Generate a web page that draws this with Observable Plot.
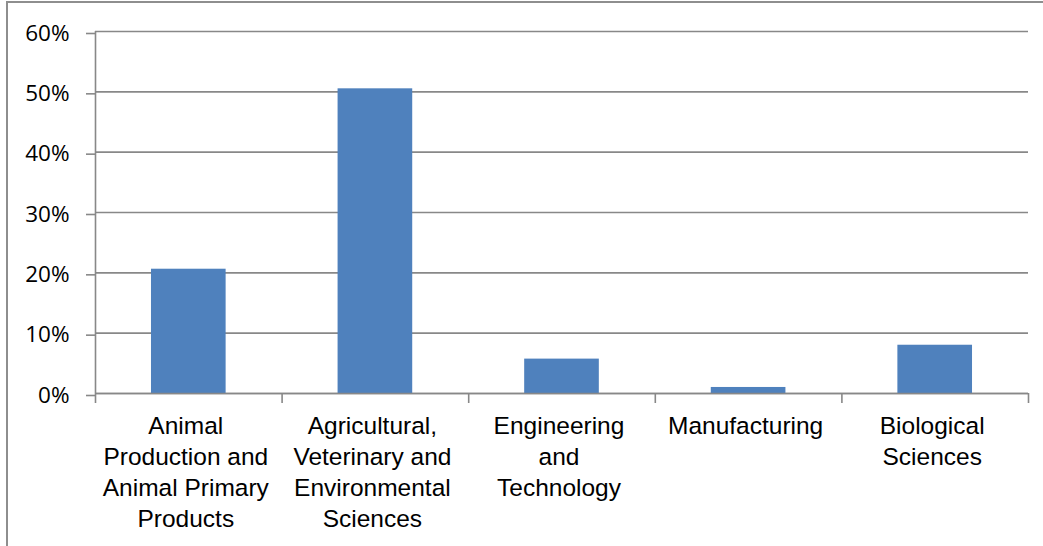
<!DOCTYPE html>
<html>
<head>
<meta charset="utf-8">
<script src="https://cdn.jsdelivr.net/npm/d3@7"></script>
<script src="https://cdn.jsdelivr.net/npm/@observablehq/plot@0.6"></script>
<style>
  html, body { margin: 0; padding: 0; background: #fff; overflow: hidden; }
  #wrap { position: relative; width: 1043px; height: 546px; }
  #frame { position: absolute; left: 6px; top: 1px; width: 3000px; height: 3000px;
           border-left: 2px solid #8e8e8e; border-top: 2px solid #8e8e8e; pointer-events: none; }
  #chart { position: absolute; left: 0; top: 0; }
  .cat text { font-family: "Liberation Sans", Arial, sans-serif !important; }
</style>
</head>
<body>
<div id="wrap"><div id="chart"></div><div id="frame"></div></div>
<script>
const categories = [
  "Animal\nProduction and\nAnimal Primary\nProducts",
  "Agricultural,\nVeterinary and\nEnvironmental\nSciences",
  "Engineering\nand\nTechnology",
  "Manufacturing",
  "Biological\nSciences"
];
const values = [0.206, 0.505, 0.057, 0.010, 0.080];
const yTicks = [0, 0.1, 0.2, 0.3, 0.4, 0.5, 0.6];

const data = categories.map((c, i) => ({i, category: c, value: values[i]}));
const boundaries = d3.range(categories.length + 1);
const centers = d3.range(categories.length).map(i => i + 0.5);
const grid = "#888888";

const chart = Plot.plot({
  width: 1043,
  height: 546,
  marginLeft: 95,
  marginRight: 15,
  marginTop: 31,
  marginBottom: 153,
  style: {background: "transparent", overflow: "visible"},
  x: {type: "linear", domain: [0, categories.length]},
  y: {domain: [0, 0.6]},
  marks: [
    Plot.gridY(yTicks, {stroke: grid, strokeOpacity: 1, strokeWidth: 1.6}),
    Plot.rectY(data, {x1: d => d.i + 0.3, x2: d => d.i + 0.7, y: "value", fill: "#4F81BD"}),
    Plot.ruleX([0], {stroke: grid, strokeWidth: 1.6}),
    Plot.ruleY([0], {stroke: grid, strokeWidth: 1.6}),
    Plot.axisY(yTicks, {
      tickFormat: d3.format(".0%"),
      tickSize: 9,
      tickPadding: 17,
      stroke: grid,
      strokeWidth: 1.6,
      fill: "#000",
      fontSize: 22.5,
      fontFamily: "'Open Sans', sans-serif",
      dy: 2,
      label: null
    }),
    Plot.axisX(boundaries, {
      tickSize: 10,
      tickFormat: () => "",
      stroke: grid,
      strokeWidth: 1.6,
      label: null
    }),
    Plot.axisX(centers, {
      className: "cat",
      tickSize: 0,
      tickPadding: 18.5,
      dx: -3,
      tickFormat: v => categories[Math.floor(v)],
      fontSize: 24.5,
      fontFamily: "'Liberation Sans', Arial, sans-serif",
      lineHeight: 1.265,
      fill: "#000",
      label: null
    })
  ]
});
document.getElementById("chart").appendChild(chart);
</script>
</body>
</html>
